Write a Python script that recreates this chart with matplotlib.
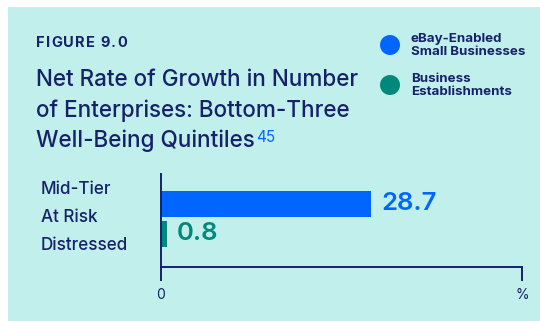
import matplotlib
matplotlib.use("Agg")
import matplotlib.pyplot as plt
from matplotlib.patches import Rectangle, Circle

# Chart content
figure_label = "FIGURE 9.0"
title_lines = ["Net Rate of Growth in Number",
               "of Enterprises: Bottom-Three",
               "Well-Being Quintiles"]
footnote = "45"
quintiles = ["Mid-Tier", "At Risk", "Distressed"]
series_names = ["eBay-Enabled\nSmall Businesses", "Business\nEstablishments"]
series_values = [28.7, 0.8]
axis_tick_labels = ["0", "%"]
axis_max = 49.3

# Styling
BG = "#c1f0ec"
NAVY = "#17216a"
BLUE = "#0066ff"
TEAL = "#00897b"
series_colors = [BLUE, TEAL]
FONT = ["Inter", "DejaVu Sans"]

W, H = 540, 321
fig = plt.figure(figsize=(W / 100, H / 100), dpi=100)
fig.patch.set_facecolor("white")
renderer = fig.canvas.get_renderer()


def fx(px):
    return px / W


def fy(py):
    return 1 - py / H


# Tinted panel
fig.patches.append(Rectangle((fx(8), 0), 1 - fx(8), fy(7), transform=fig.transFigure,
                             facecolor=BG, edgecolor="none", zorder=-10))

# Letter-spaced figure label, drawn glyph by glyph
x = 36.0
for ch in figure_label:
    t = fig.text(fx(x), fy(46.7), ch, fontsize=10.5, fontweight="bold", color=NAVY,
                 family=FONT, va="baseline", ha="left")
    x += t.get_window_extent(renderer).width + 1.15

baselines = [86, 116.7, 147.3]
title_texts = []
for line, b in zip(title_lines, baselines):
    t = fig.text(fx(36), fy(b), line, fontsize=16.2, color=NAVY, family=FONT,
                 fontweight="medium", va="baseline", ha="left")
    title_texts.append(t)

# Legend
legend_centers = [45, 85]
for name, col, cy in zip(series_names, series_colors, legend_centers):
    fig.patches.append(Circle((390, H - cy), 10, transform=None, facecolor=col,
                              edgecolor="none"))
    fig.text(fx(410.7), fy(cy + 0.5), name, fontsize=9.6, fontweight="bold", color=NAVY,
             family=FONT, va="center", ha="left", linespacing=1.2)

# Bar chart area
ax = fig.add_axes([fx(161), fy(266.7), fx(522) - fx(161), (266.7 - 174) / H])
ax.set_facecolor("none")
positions = list(range(len(series_values)))
ax.barh(positions, series_values, height=0.867, color=series_colors, zorder=2)
ax.set_xlim(0, axis_max)
ax.set_ylim(2.1, -0.99)

for p, v, col in zip(positions, series_values, series_colors):
    ax.annotate(f"{v:.1f}", xy=(v, p), xytext=(10, 0), textcoords="offset pixels",
                fontsize=18.5, fontweight="semibold", color=col, family=FONT,
                va="center", ha="left")

for s in ["top", "right"]:
    ax.spines[s].set_visible(False)
for s in ["left", "bottom"]:
    ax.spines[s].set_color(NAVY)
    ax.spines[s].set_linewidth(1.4)
ax.set_yticks([])
ax.set_xticks([0, axis_max])
ax.set_xticklabels(axis_tick_labels, family=FONT, fontsize=10, color=NAVY)
ax.tick_params(axis="x", length=9.8, width=1.4, color=NAVY, pad=5.5)

# Quintile labels
label_centers = [189.5, 217, 245]
for q, cy in zip(quintiles, label_centers):
    fig.text(fx(41), fy(cy), q, fontsize=12.3, color=NAVY, family=FONT,
             fontweight="medium", va="center", ha="left")

# Superscript footnote after last title line
fig.canvas.draw()
bb = title_texts[-1].get_window_extent(renderer)
fig.text((bb.x1 + 1) / W, fy(141.7), footnote, fontsize=11, color=BLUE, family=FONT,
         va="baseline", ha="left")

fig.savefig("out.png", dpi=100, facecolor=fig.get_facecolor())
